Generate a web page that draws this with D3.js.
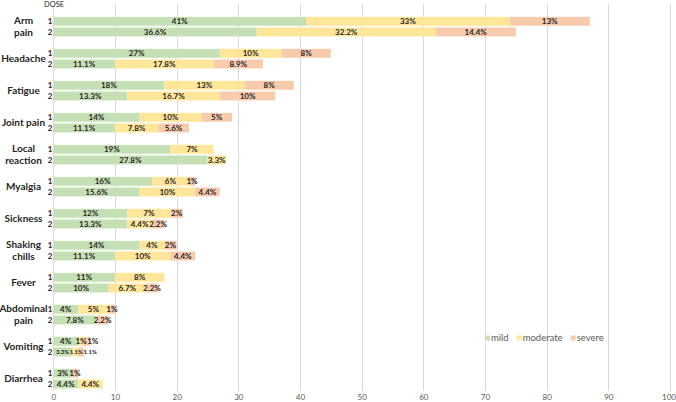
<!DOCTYPE html>
<html>
<head>
<meta charset="utf-8">
<script src="https://cdn.jsdelivr.net/npm/d3@7"></script>
<style>
  html, body { margin: 0; padding: 0; background: #ffffff; }
  svg { display: block; font-family: Lato, Carlito, "Open Sans", sans-serif; }
</style>
</head>
<body>
<svg id="chart" width="676" height="402"></svg>
<script>
// ---------------- DATA ----------------
const categories = ["Arm pain", "Headache", "Fatigue", "Joint pain", "Local reaction", "Myalgia",
  "Sickness", "Shaking chills", "Fever", "Abdominal pain", "Vomiting", "Diarrhea"];
const categoryLines = [["Arm", "pain"], ["Headache"], ["Fatigue"], ["Joint pain"], ["Local", "reaction"],
  ["Myalgia"], ["Sickness"], ["Shaking", "chills"], ["Fever"], ["Abdominal", "pain"], ["Vomiting"], ["Diarrhea"]];
const doses = ["1", "2"];
const severities = ["mild", "moderate", "severe"];

const dose1Mild     = [41, 27, 18, 14, 19, 16, 12, 14, 10, 4, 4, 3];
const dose1Moderate = [33, 10, 13, 10, 7, 6, 7, 4, 8, 5, 1, 0];
const dose1Severe   = [13, 8, 8, 5, 0, 1, 2, 2, 0, 1, 1, 1];
const dose2Mild     = [33, 10, 12, 10, 25, 14, 12, 10, 9, 7, 3, 4];
const dose2Moderate = [29, 16, 15, 7, 3, 9, 4, 9, 6, 0, 1, 4];
const dose2Severe   = [13, 8, 9, 5, 0, 4, 2, 4, 2, 2, 1, 0];

const dose1MildLabel     = ["41%", "27%", "18%", "14%", "19%", "16%", "12%", "14%", "11%", "4%", "4%", "3%"];
const dose1ModerateLabel = ["33%", "10%", "13%", "10%", "7%", "6%", "7%", "4%", "8%", "5%", "1%", ""];
const dose1SevereLabel   = ["13%", "8%", "8%", "5%", "", "1%", "2%", "2%", "", "1%", "1%", "1%"];
const dose2MildLabel     = ["36.6%", "11.1%", "13.3%", "11.1%", "27.8%", "15.6%", "13.3%", "11.1%", "10%", "7.8%", "3.3%", "4.4%"];
const dose2ModerateLabel = ["32.2%", "17.8%", "16.7%", "7.8%", "3.3%", "10%", "4.4%", "10%", "6.7%", "", "1.1%", "4.4%"];
const dose2SevereLabel   = ["14.4%", "8.9%", "10%", "5.6%", "", "4.4%", "2.2%", "4.4%", "2.2%", "2.2%", "1.1%", ""];

const xTicks = [0, 10, 20, 30, 40, 50, 60, 70, 80, 90, 100];
const axisTitle = "DOSE";

// ---------------- STYLE ----------------
const colors = { mild: "#c5e0b4", moderate: "#ffe699", severe: "#f8cbad" };
const smallLabelBars = [["Vomiting", "2"]];

// ---------------- BUILD ROWS ----------------
const values = {
  "1": [dose1Mild, dose1Moderate, dose1Severe],
  "2": [dose2Mild, dose2Moderate, dose2Severe]
};
const labels = {
  "1": [dose1MildLabel, dose1ModerateLabel, dose1SevereLabel],
  "2": [dose2MildLabel, dose2ModerateLabel, dose2SevereLabel]
};

const rows = [];
categories.forEach((cat, ci) => {
  doses.forEach(d => {
    let acc = 0;
    const segs = severities.map((s, si) => {
      const v = values[d][si][ci];
      const seg = { sev: s, x0: acc, x1: acc + v, label: labels[d][si][ci] };
      acc += v;
      return seg;
    });
    rows.push({ cat, ci, dose: d, segs,
      small: smallLabelBars.some(p => p[0] === cat && p[1] === d) });
  });
});

// ---------------- SCALES ----------------
const W = 676;
const svg = d3.select("#chart");
const x = d3.scaleLinear().domain([0, 100]).range([53.3, 670]);
const yCat = d3.scaleBand().domain(categories).range([5.3, 389.3]).padding(0);
const ySub = d3.scaleBand().domain(["", "1", "2"]).range([0, yCat.bandwidth()]).paddingInner(0.16).paddingOuter(0.08);

// ---------------- GRID ----------------
const plotTop = 4, plotBottom = 391;
svg.append("g").selectAll("line").data(xTicks).join("line")
  .attr("x1", d => Math.round(x(d)) + 0.5).attr("x2", d => Math.round(x(d)) + 0.5)
  .attr("y1", plotTop).attr("y2", plotBottom)
  .attr("stroke", "#d9d9d9").attr("stroke-width", 1);

// x axis tick labels
const xAxis = d3.axisBottom(x).tickValues(xTicks).tickSize(0).tickPadding(0).tickFormat(d3.format("d"));
const gx = svg.append("g").attr("transform", `translate(0,${plotBottom + 3.5})`).call(xAxis);
gx.select(".domain").remove();
gx.selectAll("text").attr("font-size", 8).attr("fill", "#595959")
  .attr("font-family", "Lato, Carlito, 'Open Sans', sans-serif");
// keep the last tick label inside the canvas
gx.selectAll(".tick").each(function(d) {
  const t = d3.select(this).select("text");
  const w = t.node().getComputedTextLength();
  const over = x(d) + w / 2 - (W - 0.5);
  if (over > 0) t.attr("x", -over);
});

// ---------------- BARS ----------------
const rowG = svg.append("g").selectAll("g.row").data(rows).join("g")
  .attr("class", "row")
  .attr("transform", d => `translate(0,${yCat(d.cat) + ySub(d.dose)})`);

const bh = ySub.bandwidth();
rowG.selectAll("rect").data(d => d.segs.filter(s => s.x1 > s.x0)).join("rect")
  .attr("x", s => x(s.x0))
  .attr("width", s => x(s.x1) - x(s.x0))
  .attr("y", 0).attr("height", bh)
  .attr("fill", s => colors[s.sev]);

// labels with simple collision avoidance
rowG.each(function(r) {
  const g = d3.select(this);
  let prevRight = -Infinity;
  r.segs.forEach(s => {
    if (!s.label) return;
    const t = g.append("text")
      .attr("y", bh / 2)
      .attr("dy", "0.35em")
      .attr("text-anchor", "middle")
      .attr("font-size", r.small ? 6 : 8)
      .attr("font-weight", "bold")
      .attr("fill", "#262626")
      .text(s.label);
    const w = t.node().getComputedTextLength();
    let cx = (x(s.x0) + x(s.x1)) / 2;
    if (cx - w / 2 < prevRight + 0.5) cx = prevRight + 0.5 + w / 2;
    t.attr("x", cx);
    prevRight = cx + w / 2;
  });
});

// dose tick labels
rowG.append("text")
  .attr("x", 52.5).attr("y", bh / 2).attr("dy", "0.35em")
  .attr("text-anchor", "end")
  .attr("font-size", 8).attr("font-weight", "bold").attr("fill", "#262626")
  .text(r => r.dose);

// ---------------- CATEGORY LABELS ----------------
const catG = svg.append("g").selectAll("text.cat").data(categories).join("text")
  .attr("class", "cat")
  .attr("text-anchor", "middle")
  .attr("font-size", 10).attr("font-weight", "bold").attr("fill", "#262626");
catG.each(function(c, i) {
  const lines = categoryLines[i];
  const cy = yCat(c) + (ySub("1") + ySub("2") + bh) / 2;
  const lh = 12;
  lines.forEach((ln, li) => {
    d3.select(this).append("tspan")
      .attr("x", 23.5)
      .attr("y", cy + (li - (lines.length - 1) / 2) * lh)
      .attr("dy", "0.35em")
      .text(ln);
  });
});

// axis title
svg.append("text").attr("x", 44).attr("y", 4.5).attr("dy", "0.35em")
  .attr("font-size", 7.5).attr("fill", "#262626").text(axisTitle);

// ---------------- LEGEND ----------------
const legend = svg.append("g").attr("transform", "translate(485,338)");
let lx = 0;
severities.forEach(s => {
  legend.append("rect").attr("x", lx).attr("y", -2.5).attr("width", 5).attr("height", 5).attr("fill", colors[s]);
  const t = legend.append("text").attr("x", lx + 6).attr("y", 0).attr("dy", "0.35em")
    .attr("font-size", 9.5).attr("fill", "#595959").text(s);
  lx += 6 + t.node().getComputedTextLength() + 8;
});
</script>
</body>
</html>
